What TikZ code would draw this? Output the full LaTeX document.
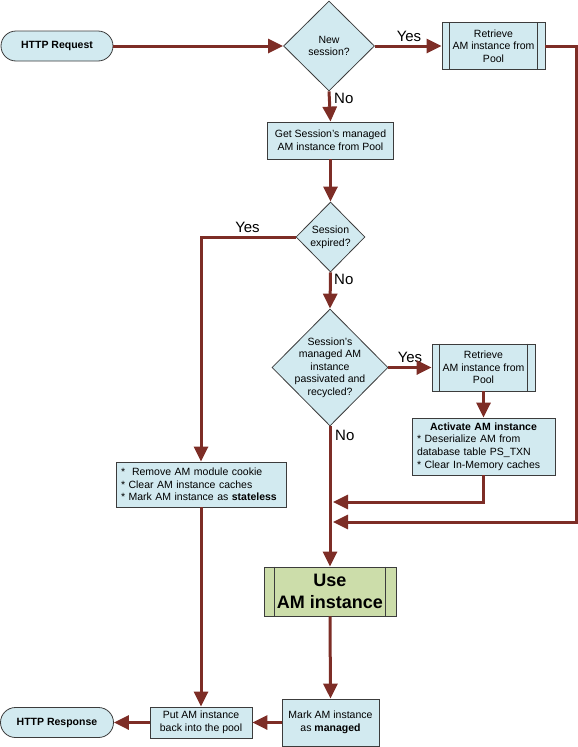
\documentclass[tikz,border=0pt]{standalone}
\usepackage{fontspec}
\setmainfont{Liberation Sans}
\usetikzlibrary{arrows.meta,shapes.geometric}
\definecolor{boxfill}{RGB}{210,234,240}
\definecolor{usefill}{RGB}{204,221,170}
\definecolor{arrowred}{RGB}{125,45,38}
\definecolor{border}{RGB}{60,60,60}
\begin{document}
\begin{tikzpicture}[x=1pt,y=-1pt,
 box/.style={draw=border, line width=0.8pt, fill=boxfill, inner sep=0pt, align=center, font=\fontsize{10.5}{12.6}\selectfont},
 pill/.style={box, rounded corners=15pt, font=\bfseries\fontsize{10.5}{12.6}\selectfont},
 dec/.style={draw=border, line width=0.8pt, fill=boxfill, diamond, inner sep=0pt},
 dtext/.style={align=center, inner sep=0pt, font=\fontsize{10.5}{12.6}\selectfont},
 inner/.style={draw=border, line width=0.8pt},
 flow/.style={draw=arrowred, line width=3pt, -{Triangle[length=15pt,width=14pt]}},
 yn/.style={font=\fontsize{15}{15}\selectfont, inner sep=0pt}]
\useasboundingbox (0,0) rectangle (578,747);

% nodes
\node[pill, minimum width=112pt, minimum height=30pt] (req) at (57,46) {HTTP Request};
\node[dec, minimum width=91pt, minimum height=90pt] (d1) at (329,46) {};
\node[dtext] (d1t) at (d1.center) {New\\session?};
\node[box, minimum width=103pt, minimum height=47pt] (r1) at (493.5,46) {Retrieve\\AM instance from\\Pool};
\draw[inner] ([xshift=8pt]r1.north west) -- ([xshift=8pt]r1.south west);
\draw[inner] ([xshift=-8pt]r1.north east) -- ([xshift=-8pt]r1.south east);

\node[box, minimum width=126pt, minimum height=37pt] (gs) at (330.5,140.5) {Get Session’s managed\\AM instance from Pool};

\node[dec, minimum width=69pt, minimum height=70pt] (d2) at (330.5,237) {};
\node[dtext] (d2t) at (d2.center) {Session\\expired?};

\node[dec, minimum width=116pt, minimum height=117pt] (d3) at (330,367.5) {};
\node[dtext] (d3t) at (d3.center) {Session’s\\managed AM\\instance\\passivated and\\recycled?};

\node[box, minimum width=103pt, minimum height=47pt] (r2) at (483.5,367.5) {Retrieve\\AM instance from\\Pool};
\draw[inner] ([xshift=8pt]r2.north west) -- ([xshift=8pt]r2.south west);
\draw[inner] ([xshift=-8pt]r2.north east) -- ([xshift=-8pt]r2.south east);

\node[box, text width=133pt, inner xsep=5pt, minimum height=57pt, align=left] (act) at (483.5,446.5)
 {\makebox[\linewidth]{\textbf{Activate AM instance}}\\{}* Deserialize AM from\\{}database table PS\_TXN\\{}* Clear In-Memory caches};

\node[box, text width=160pt, inner xsep=5pt, minimum height=45pt, align=left] (rm) at (201,484.5)
 {*~ Remove AM module cookie\\{}* Clear AM instance caches\\{}* Mark AM instance as \textbf{stateless}};

\node[box, fill=usefill, minimum width=132pt, minimum height=49pt, font=\bfseries\fontsize{18}{22}\selectfont] (use) at (330,591.5) {Use\\AM instance};
\draw[inner] ([xshift=11pt]use.north west) -- ([xshift=11pt]use.south west);
\draw[inner] ([xshift=-11pt]use.north east) -- ([xshift=-11pt]use.south east);

\node[box, minimum width=97pt, minimum height=47pt] (mark) at (330.5,722.5) {Mark AM instance\\as \textbf{managed}};
\node[box, minimum width=102pt, minimum height=31pt] (put) at (201,722.5) {Put AM instance\\back into the pool};
\node[pill, minimum width=113pt, minimum height=30pt] (resp) at (57,722.5) {HTTP Response};

% labels
\node[yn] (y1) at (409,36) {Yes};
\node[yn, anchor=west] (n1) at (334,98) {No};
\node[yn] (y2) at (247.5,227) {Yes};
\node[yn, anchor=west] (n2) at (334,279) {No};
\node[yn] (y3) at (410,357) {Yes};
\node[yn, anchor=west] (n3) at (335,435) {No};

% connectors
\coordinate (rc) at (576,522);
\coordinate (j2) at (333,522);
\coordinate (j1) at (333,502);
\draw[flow] (req.east) -- (d1.west);
\draw[flow] (d1.east) -- (r1.west);
\draw[flow] (r1.east) -| (rc) -- (j2);
\draw[flow] (d1.south) -- (gs.north);
\draw[flow] (gs.south) -- (d2.north);
\draw[flow] (d2.west) -| (rm.north);
\draw[flow] (d2.south) -- (d3.north);
\draw[flow] (d3.east) -- (r2.west);
\draw[flow] (r2.south) -- (act.north);
\draw[flow] (act.south) |- (j1);
\draw[flow] (d3.south) -- (use.north);
\draw[flow] (use.south) -- (mark.north);
\draw[flow] (mark.west) -- (put.east);
\draw[flow] (put.west) -- (resp.east);
\draw[flow] (rm.south) -- (put.north);
\end{tikzpicture}
\end{document}
